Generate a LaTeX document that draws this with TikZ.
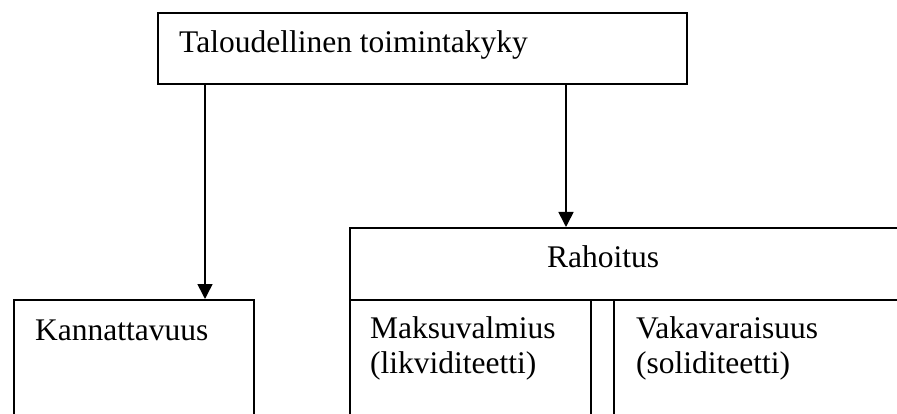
\documentclass[tikz,border=0pt]{standalone}
\usepackage{fontspec}
\setmainfont{Liberation Serif}
\usetikzlibrary{arrows.meta}
\begin{document}
\begin{tikzpicture}[x=1pt,y=-1pt,
  box/.style={draw=black,line width=1.9pt,rectangle,inner sep=0pt,anchor=north west},
  lbl/.style={inner sep=0pt,anchor=base west,font=\fontsize{31.5}{35}\selectfont},
  arr/.style={line width=1.6pt,-{Triangle[length=15pt,width=15pt]}}]
\useasboundingbox (0,0) rectangle (897,414);
\clip (0,0) rectangle (897,414);
% boxes
\node[box,minimum width=529pt,minimum height=71pt] (top) at (157,12) {};
\node[box,minimum width=240pt,minimum height=160pt] (kan) at (13,299) {};
\node[box,minimum width=580pt,minimum height=72pt] (rah) at (349,227) {};
\node[box,minimum width=241pt,minimum height=160pt] (mak) at (349,299) {};
\node[box,minimum width=23pt,minimum height=160pt] (gap) at (590,299) {};
\node[box,minimum width=320pt,minimum height=160pt] (vak) at (613,299) {};
% texts
\node[lbl] (ttop) at (179,53) {Taloudellinen toimintakyky};
\node[lbl] (tkan) at (35,340) {Kannattavuus};
\node[lbl] (trah) at (547,268) {Rahoitus};
\node[lbl] (tmak) at (370,338) {Maksuvalmius};
\node[lbl] (tmak2) at (370,373) {(likviditeetti)};
\node[lbl] (tvak) at (636,338) {Vakavaraisuus};
\node[lbl] (tvak2) at (636,373) {(soliditeetti)};
% connectors
\coordinate (s1) at (top.south -| 205,0);
\coordinate (e1) at (kan.north -| 205,0);
\coordinate (s2) at (top.south -| 566,0);
\coordinate (e2) at (rah.north -| 566,0);
\draw[arr] (s1) -- (e1);
\draw[arr] (s2) -- (e2);
\end{tikzpicture}
\end{document}
